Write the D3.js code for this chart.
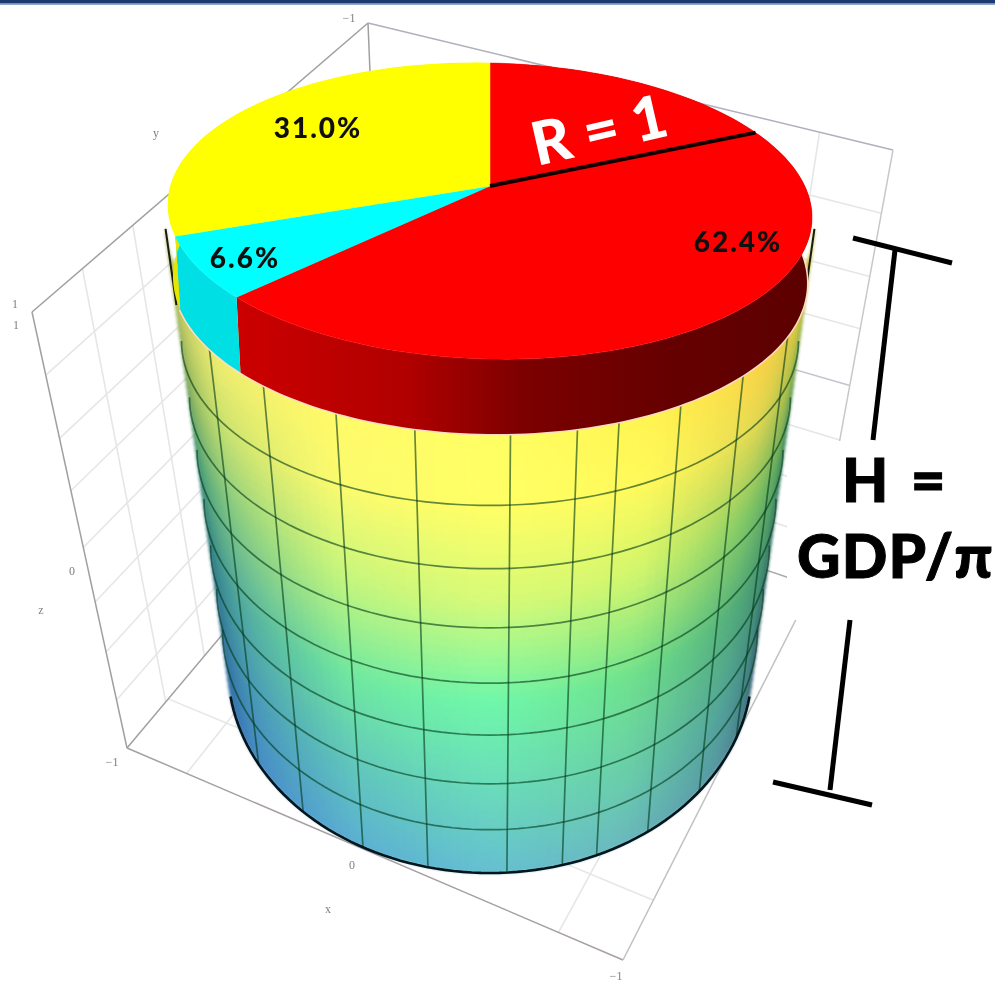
<!DOCTYPE html>
<html>
<head>
<meta charset="utf-8">
<script src="https://cdn.jsdelivr.net/npm/d3@7"></script>
<style>
    html, body { margin: 0; padding: 0; background: #fff; }
    svg { display: block; }
    .tick-label { font-family: "Liberation Serif", serif; font-size: 12px; fill: #808080; text-anchor: middle; }
    .slice-label { font-family: Lato, sans-serif; font-weight: 900; fill: #101010; letter-spacing: 2px; }
    .big-label { font-family: Lato, sans-serif; font-weight: 900; fill: #000; stroke: #000; stroke-width: 1; }
</style>
</head>
<body>
<div id="chart"></div>
<script>
// pie on top of the cylinder
const sliceNames = ['red', 'cyan', 'yellow'];
const sliceValues = [62.4, 6.6, 31.0];
const sliceLabels = ['62.4%', '6.6%', '31.0%'];
const sliceColors = ['#ff0000', '#00ffff', '#ffff00'];
const radiusAngle = 64;   // degrees clockwise from the top of the pie

// cylinder mesh, in the plot's own units
const ringLevels = [-0.75, -0.5, -0.25, 0, 0.25, 0.5, 0.75];
const meshAngles = [-62, -45.5, -29, -13.7, 3.7, 16, 24, 37, 53, 70];

// surface colour: rows are heights, columns are angles
const colourHeights = [1.2, 1, 0.75, 0.37, -0.08, -0.59, -1];
const colourAngles = [-90, -60, -30, 0, 30, 60, 90];
const surfaceColours = [
    ['#96aa5a', '#ebeb6e', '#fffa69', '#ffff64', '#fff550', '#fad246', '#bebe3c'],
    ['#96aa5a', '#ebeb6e', '#fffa69', '#ffff64', '#fff550', '#fad246', '#bebe3c'],
    ['#6e9650', '#c8e16e', '#fafa6e', '#ffff64', '#fffa5a', '#e1d750', '#78a546'],
    ['#28826e', '#82c882', '#c3f57d', '#d7fa78', '#cdf56e', '#82c864', '#32825a'],
    ['#1e6478', '#50aaa0', '#6ee6a0', '#6ef8aa', '#6ee18c', '#50aa78', '#326e64'],
    ['#235a8c', '#4696b9', '#5fc3be', '#69d7be', '#69cdaa', '#50a096', '#32646e'],
    ['#235a96', '#468cc8', '#5aafd2', '#64bed2', '#69b9be', '#5596a0', '#325a6e']
];

// faint grid of the plot box, as fractions along each wall
const leftWallColumns = [0.15, 0.3, 0.47, 0.65];
const backWallColumns = [0.62, 0.86];
const floorColumns = [0.12, 0.5, 0.87];
const wallRows = [0.145, 0.29, 0.41, 0.54, 0.665, 0.78, 0.89];
const floorRows = [0.5, 0.84];
const tickLabels = [
    {text: '\u22121', x: 349, y: 22}, {text: 'y', x: 156, y: 137},
    {text: '1', x: 15, y: 308}, {text: '1', x: 16, y: 329},
    {text: '0', x: 72, y: 575}, {text: 'z', x: 41, y: 614},
    {text: '\u22121', x: 112, y: 766}, {text: '0', x: 352, y: 869},
    {text: 'x', x: 328, y: 913}, {text: '\u22121', x: 616, y: 980}
];

const width = 995, height = 982;
const cx = 490;

const svg = d3.select('#chart').append('svg')
    .attr('width', width)
    .attr('height', height);

const defs = svg.append('defs');

// the reference is a soft, scanned looking picture
const soften = (id, amount) => defs.append('filter')
    .attr('id', id)
    .attr('filterUnits', 'userSpaceOnUse')
    .attr('x', 0).attr('y', 0).attr('width', width).attr('height', height)
    .attr('color-interpolation-filters', 'sRGB')
    .append('feGaussianBlur').attr('stdDeviation', amount);
soften('softAll', 0.6);
soften('softSurface', 1.4);

const root = svg.append('g').attr('filter', 'url(#softAll)');

// perspective of the cylinder: height -> y of the ring's front point
function frontY(z) {
    const u = (z + 1) * 4;
    return (873 - 66.9 * u) / (1 - 0.02846 * u);
}
const depth = d3.scaleLinear().domain([375, 873]).range([0, 1]);
const ringRx = d3.scaleLinear().domain([0, 1]).range([325, 262]);
const ringRy = d3.scaleLinear().domain([0, 1]).range([150, 205]);
const ringCy = d3.scaleLinear().domain([0, 1]).range([225, 668]);

function bodyPoint(angle, z) {
    const s = depth(frontY(z));
    const a = angle * Math.PI / 180;
    return [cx + ringRx(s) * Math.sin(a), ringCy(s) + ringRy(s) * Math.cos(a)];
}

const line = d3.line();
const bodyTop = 1.2;

// pie planes, the apex is off centre because of the perspective
const apexShift = -0.169;
const topPlane = {cy: 211, rx: 322, ry: 148, skew: 0.02};
const rimPlane = {cy: 280, rx: 317, ry: 154, skew: 0.01};
const apex = [cx, topPlane.cy + apexShift * topPlane.ry];

function piePoint(angle, plane) {
    const u = Math.sin(angle), v = Math.cos(angle);
    const den = 1 - apexShift * v;
    const xe = u * Math.sqrt(1 - apexShift * apexShift) / den;
    const ye = (apexShift - v) / den;
    const x = cx + plane.rx * xe;
    return [x, plane.cy + plane.ry * ye + plane.skew * (x - cx)];
}

function arcPoints(a0, a1, plane) {
    const n = Math.max(2, Math.ceil(Math.abs(a1 - a0) * 40));
    return d3.range(n + 1).map(i => piePoint(a0 + (a1 - a0) * i / n, plane));
}

// ---- plot box
const boxG = root.append('g').attr('fill', 'none');
const cornerA = [32, 312], cornerB = [368, 23], cornerR = [893, 150];
const cornerF = [813, 586], cornerG = [385, 441], cornerD = [127, 748], cornerE = [623, 960];
const walls = [
    {corners: [cornerA, cornerB, cornerG, cornerD], columns: leftWallColumns, rows: wallRows},
    {corners: [cornerB, cornerR, cornerF, cornerG], columns: backWallColumns, rows: wallRows},
    {corners: [cornerG, cornerF, cornerE, cornerD], columns: floorColumns, rows: floorRows}
];
function mix(p, q, t) { return d3.interpolateArray(p, q)(t); }

walls.forEach(({corners: [p0, p1, p2, p3], columns, rows}) => {
    columns.forEach(t => {
        boxG.append('path').attr('d', line([mix(p0, p1, t), mix(p3, p2, t)]))
            .attr('stroke', '#e6e6e6').attr('stroke-width', 1.6);
    });
    rows.forEach(t => {
        boxG.append('path').attr('d', line([mix(p0, p3, t), mix(p1, p2, t)]))
            .attr('stroke', t === 0.54 && p0 === cornerB ? '#c4c4d0' : '#e6e6e6').attr('stroke-width', 1.6);
    });
});

const boxEdges = [
    [cornerA, cornerB, '#a0a0a0'], [cornerB, cornerG, '#a0a0a0'], [cornerB, cornerR, '#b0b0bc'],
    [cornerR, cornerF, '#c8c8cc'], [cornerA, cornerD, '#a0a0a0'], [cornerD, cornerG, '#a0a0a0'],
    [cornerD, cornerE, '#a8a0a0'], [cornerE, cornerF, '#c0c0c0'], [cornerG, cornerF, '#a8a8a8']
];
boxEdges.forEach(([p, q, c]) => {
    boxG.append('path').attr('d', line([p, q])).attr('stroke', c).attr('stroke-width', 1.5);
});

root.selectAll('.tick-label')
    .data(tickLabels)
    .join('text')
    .attr('class', 'tick-label')
    .attr('x', d => d.x)
    .attr('y', d => d.y)
    .text(d => d.text);

// white box that sat behind the H label
root.append('rect').attr('x', 787).attr('y', 441).attr('width', 208).attr('height', 179).attr('fill', '#fff');

// ---- cylinder surface
const columnScales = colourAngles.map((_, c) => d3.scaleLinear()
    .domain(colourHeights)
    .range(surfaceColours.map(row => row[c]))
    .interpolate(d3.interpolateRgb)
    .clamp(true));
const surfaceColour = (angle, z) => {
    const scale = d3.scaleLinear()
        .domain(colourAngles)
        .range(columnScales.map(s => s(z)))
        .interpolate(d3.interpolateRgb)
        .clamp(true);
    return scale(angle);
};

const patchAngles = d3.range(-90, 90, 2);
const patchHeights = d3.range(-1, bodyTop, 0.04);
const patches = patchAngles.flatMap(a => patchHeights.map(z => ({a, z})));

root.append('g').attr('filter', 'url(#softSurface)').selectAll('path')
    .data(patches)
    .join('path')
    .attr('d', d => {
        const z1 = Math.min(d.z + 0.04, bodyTop);
        return line([bodyPoint(d.a, d.z), bodyPoint(d.a + 2, d.z), bodyPoint(d.a + 2, z1), bodyPoint(d.a, z1)]) + 'Z';
    })
    .attr('fill', d => surfaceColour(d.a + 1, d.z + 0.02))
    .attr('stroke', d => surfaceColour(d.a + 1, d.z + 0.02))
    .attr('stroke-width', 0.8);

// mesh
const meshG = root.append('g').attr('fill', 'none').attr('stroke', '#003818').attr('stroke-opacity', 0.6).attr('stroke-width', 1.7);
ringLevels.forEach(z => {
    meshG.append('path').attr('d', line(d3.range(-90, 90.5, 2).map(a => bodyPoint(a, z))));
});
meshAngles.forEach(a => {
    meshG.append('path').attr('d', line(d3.range(-1, bodyTop + 0.01, 0.1).map(z => bodyPoint(a, z))));
});

// dark outline: the bottom and the two upper ends of the silhouette
root.append('path')
    .attr('d', line(d3.range(-82, 82.5, 2).map(a => bodyPoint(a, -1))))
    .attr('fill', 'none').attr('stroke', '#04161c').attr('stroke-width', 2.6);
[-90, 90].forEach(a => {
    root.append('path')
        .attr('d', line(d3.range(0.9, bodyTop + 0.01, 0.05).map(z => bodyPoint(a, z))))
        .attr('fill', 'none').attr('stroke', '#1a1a10').attr('stroke-width', 2);
});

// ---- pie rim, then pie top
const slices = d3.pie().sort(null).value(d => d)(sliceValues);

const redRim = defs.append('linearGradient')
    .attr('id', 'redRim')
    .attr('gradientUnits', 'userSpaceOnUse')
    .attr('x1', 235).attr('x2', 812).attr('y1', 0).attr('y2', 0);
[[0, '#cc0000'], [0.3, '#b00000'], [0.5, '#7c0000'], [0.75, '#660000'], [1, '#5c0000']].forEach(([o, c]) => {
    redRim.append('stop').attr('offset', o).attr('stop-color', c);
});
const rimFills = ['url(#redRim)', '#00dfe4', '#e6e600'];

root.append('path')
    .attr('d', line(arcPoints(slices[0].startAngle + 1, slices[1].endAngle, rimPlane)))
    .attr('fill', 'none').attr('stroke', '#ffdcc4').attr('stroke-width', 3);

root.append('g').selectAll('path')
    .data(slices)
    .join('path')
    .attr('d', d => line(arcPoints(d.startAngle, d.endAngle, topPlane)
        .concat(arcPoints(d.endAngle, d.startAngle, rimPlane))) + 'Z')
    .attr('fill', (d, i) => rimFills[i]);

root.append('g').selectAll('path')
    .data(slices)
    .join('path')
    .attr('d', d => line([apex].concat(arcPoints(d.startAngle, d.endAngle, topPlane))) + 'Z')
    .attr('fill', (d, i) => sliceColors[i])
    .attr('stroke', (d, i) => sliceColors[i])
    .attr('stroke-width', 0.5);

// radius line
root.append('path')
    .attr('d', line([apex, piePoint(radiusAngle * Math.PI / 180, topPlane)]))
    .attr('fill', 'none').attr('stroke', '#120000').attr('stroke-width', 4);

// ---- labels
root.append('g').selectAll('text')
    .data(sliceLabels)
    .join('text')
    .attr('class', 'slice-label')
    .attr('font-size', 28)
    .attr('text-anchor', 'middle')
    .attr('x', (d, i) => [738, 245, 318][i])
    .attr('y', (d, i) => [252, 268, 138][i])
    .text(d => d);

root.append('text')
    .attr('class', 'big-label')
    .attr('font-size', 60)
    .style('fill', '#fff')
    .style('stroke', 'none')
    .attr('transform', 'translate(537,166) rotate(-13)')
    .text('R = 1');

root.append('text').attr('class', 'big-label').attr('font-size', 60).attr('x', 842).attr('y', 502)
    .style('letter-spacing', '4px').text('H =');
root.append('text').attr('class', 'big-label').attr('font-size', 60).attr('x', 797).attr('y', 578)
    .style('letter-spacing', '1.2px').text('GDP/\u03c0');

// ---- height bracket
const bracket = [
    [[853, 238], [952, 263]], [[895, 250], [873, 440]],
    [[850, 620], [830, 790]], [[773, 782], [872, 805]]
];
bracket.forEach(seg => {
    root.append('path').attr('d', line(seg)).attr('fill', 'none').attr('stroke', '#000').attr('stroke-width', 5);
});

// slide header strip at the top
svg.append('rect').attr('width', width).attr('height', 3.5).attr('fill', '#1c3a70');
svg.append('rect').attr('y', 3.5).attr('width', width).attr('height', 1.2).attr('fill', '#6484b4');
</script>
</body>
</html>
